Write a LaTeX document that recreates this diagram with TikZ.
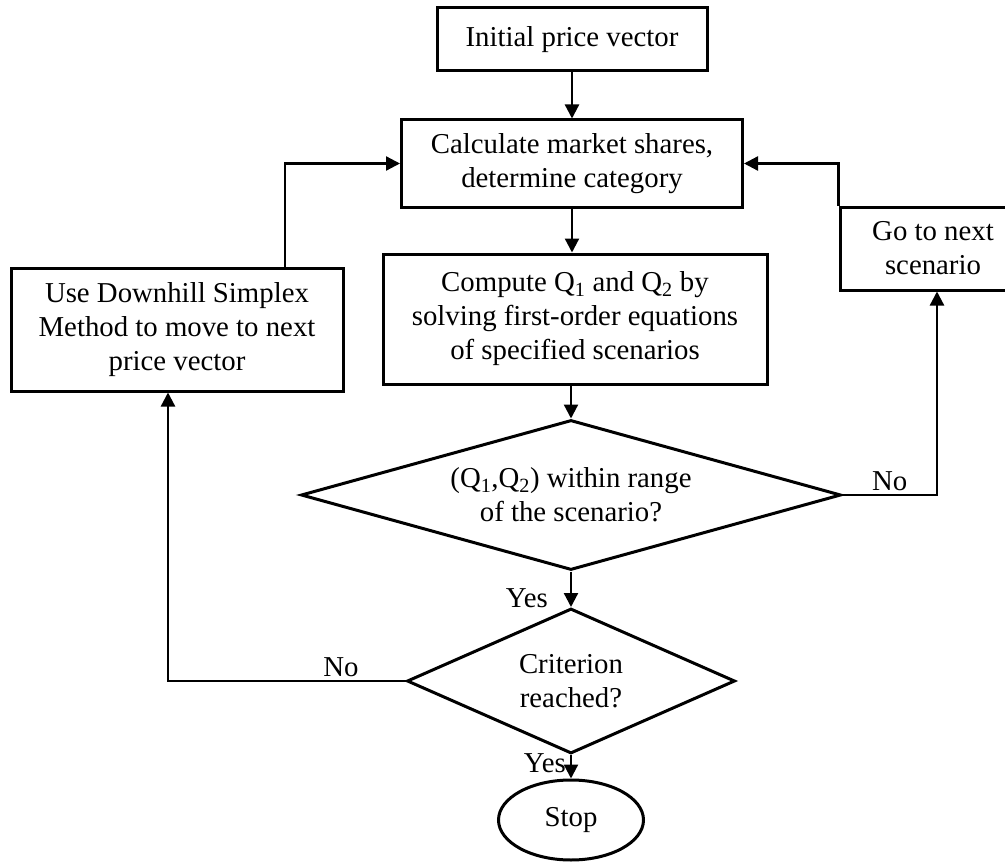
\documentclass[tikz,border=0pt]{standalone}
\usepackage{fontspec}
\setmainfont{Liberation Serif}
\usetikzlibrary{calc,arrows.meta,positioning,shapes.geometric}

\begin{document}
\begin{tikzpicture}[x=1pt, y=-1pt, line width=2.3pt, >={Triangle[length=14pt,width=14pt]},
        every node/.style={font=\fontsize{28.8}{34}\selectfont},
        block/.style={draw, line width=3pt, rectangle, align=center, inner sep=0pt},
        decide/.style={draw, line width=3pt, diamond, align=center, inner sep=0pt},
        lbl/.style={inner sep=0pt}]
        \useasboundingbox (0,0) rectangle (1005,867);

        \node[block, minimum width=270pt, minimum height=63pt] (init) at (572,39.5) {Initial price vector};
        \node[block, minimum width=341pt, minimum height=87pt] (calc) at (572,163.5) {Calculate market shares,\\determine category};
        \node[block, minimum width=384pt, minimum height=130pt] (comp) at (575,319) {Compute Q\textsubscript{1} and Q\textsubscript{2} by\\solving first-order equations\\of specified scenarios};
        \node[block, minimum width=332pt, minimum height=123pt] (simplex) at (177,329.5) {Use Downhill Simplex\\Method to move to next\\price vector};
        \node[block, minimum width=186pt, minimum height=83pt] (next) at (933,248.5) {Go to next\\scenario};
        \node[decide, aspect=3.6, minimum width=540pt, minimum height=150pt] (check) at (571,495) {(Q\textsubscript{1},Q\textsubscript{2}) within range\\of the scenario?};
        \node[decide, aspect=2.26, minimum width=328pt, minimum height=145pt] (crit) at (571,681) {Criterion\\reached?};
        \node[draw, line width=3pt, ellipse, minimum width=145pt, minimum height=80pt, inner sep=0pt] (stop) at (571,820) {Stop};

        % main line
        \draw[->] (init.south) -- (init.south |- calc.north);
        \draw[->] (calc.south) -- (calc.south |- comp.north);
        \draw[->] (comp.south -| check.north) -- (check.north);
        \draw[->] (check.south) -- node[lbl, pos=.74, left=22pt] (yes1) {Yes} (crit.north);
        \draw[->] (crit.south) -- node[lbl, pos=.33, left=4pt] (yes2) {Yes} (stop.north);

        % loops back
        \draw[->] (check.east) -| node[lbl, pos=.25, above=3pt] (no1) {No} ([xshift=4pt]next.south);
        \draw[->] (next.north west) |- (calc.east);
        \draw[->] (crit.west) -| node[lbl, pos=.136, above=3pt] (no2) {No} ([xshift=-9pt]simplex.south);
        \draw[->] ([xshift=108pt]simplex.north) |- (calc.west);
    \end{tikzpicture}
\end{document}
